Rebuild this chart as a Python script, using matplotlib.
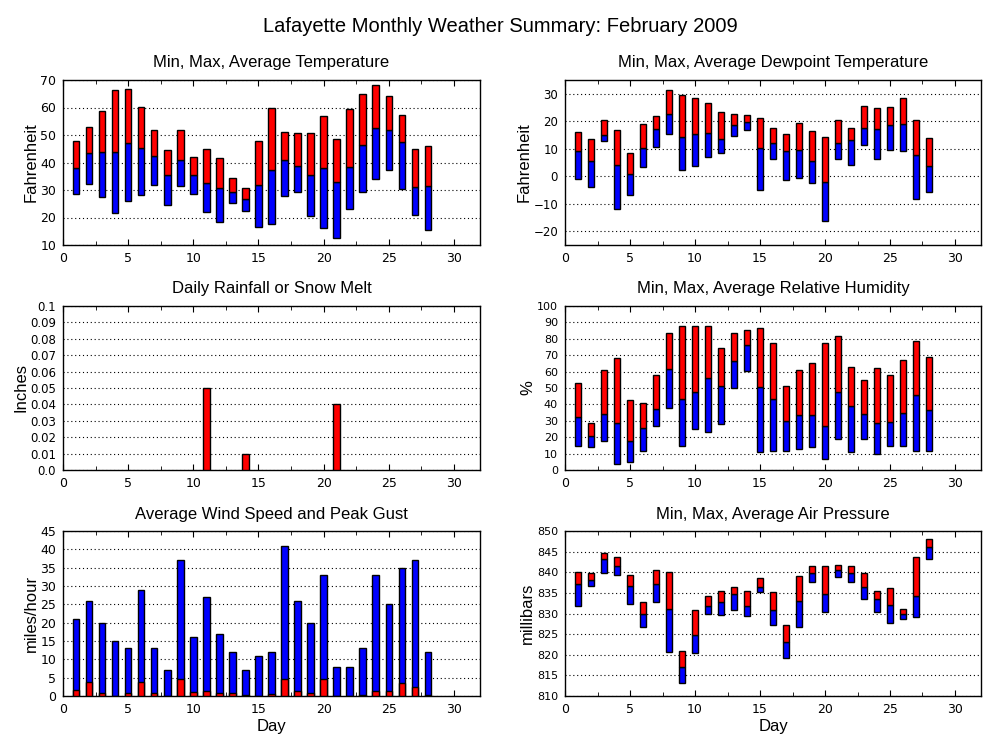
import matplotlib
matplotlib.use('Agg')
import matplotlib.pyplot as plt
from matplotlib.ticker import MultipleLocator

plt.rcParams['font.family'] = ['DejaVu Sans']
LABEL_FONT = ['Liberation Sans', 'DejaVu Sans']

days = list(range(1, 29))

temp_max = [47.7, 52.8, 58.6, 66.2, 66.6, 60.1, 51.7, 44.4, 51.7, 41.9, 44.8, 41.5, 34.2, 30.6,
            47.7, 59.7, 51.0, 50.6, 50.6, 56.8, 48.4, 59.3, 64.8, 68.1, 64.1, 57.2, 44.8, 45.9]
temp_avg = [37.9, 43.3, 43.7, 43.7, 47.0, 45.2, 42.2, 35.3, 40.8, 35.3, 32.4, 30.6, 29.2, 26.6,
            31.7, 37.2, 40.8, 38.6, 35.3, 37.9, 32.8, 38.2, 46.2, 52.4, 51.7, 47.3, 31.0, 31.3]
temp_min = [28.4, 32.1, 27.3, 21.5, 25.9, 28.1, 31.7, 24.4, 31.3, 28.4, 21.9, 18.2, 25.2, 22.2,
            16.4, 17.5, 27.7, 29.2, 20.4, 16.1, 12.4, 23.0, 29.2, 33.9, 37.2, 30.2, 20.8, 15.3]

dew_max = [16.1, 13.6, 20.5, 16.9, 8.5, 19.1, 22.0, 31.5, 29.6, 28.5, 26.7, 23.4, 22.7, 22.3,
           21.2, 17.6, 15.4, 19.4, 16.5, 14.3, 20.5, 17.6, 25.6, 24.9, 25.3, 28.5, 20.5, 13.9]
dew_avg = [9.2, 5.5, 15.0, 4.1, 0.8, 10.3, 17.2, 22.7, 14.3, 15.4, 15.8, 13.6, 18.7, 19.8,
           10.3, 12.1, 9.2, 9.6, 5.5, -2.1, 12.1, 13.2, 17.6, 17.2, 18.7, 19.1, 7.7, 3.7]
dew_min = [-1.0, -3.9, 12.8, -12.0, -6.9, 3.4, 10.7, 15.4, 2.3, 3.7, 7.0, 8.5, 14.7, 16.9,
           -5.0, 6.3, -1.4, -0.7, -2.5, -16.4, 6.3, 4.1, 11.4, 6.3, 9.6, 9.2, -8.3, -5.8]

rain = [0, 0, 0, 0, 0, 0, 0, 0, 0, 0, 0.05, 0, 0, 0.01,
        0, 0, 0, 0, 0, 0, 0.04, 0, 0, 0, 0, 0, 0, 0]

hum_max = [52.8, 28.5, 60.7, 68.0, 42.5, 40.7, 57.7, 83.8, 88.0, 88.0, 88.0, 74.1, 83.8, 85.6,
           86.8, 77.7, 51.0, 60.7, 65.0, 77.7, 82.0, 62.6, 54.7, 61.9, 57.7, 66.8, 78.9, 68.6]
hum_avg = [32.2, 20.6, 34.0, 28.5, 17.6, 25.5, 37.0, 61.3, 43.1, 47.4, 55.9, 51.0, 66.2, 76.5,
           50.4, 43.1, 29.8, 33.4, 33.4, 26.7, 47.4, 38.9, 34.0, 28.5, 29.1, 34.6, 45.5, 36.4]
hum_min = [14.6, 14.0, 17.6, 3.6, 4.9, 11.5, 26.7, 37.7, 14.6, 24.9, 23.1, 27.9, 49.8, 60.1,
           10.9, 11.5, 11.5, 12.8, 14.0, 6.7, 18.8, 10.9, 18.8, 9.7, 14.6, 14.6, 11.5, 11.5]

wind_gust = [21, 26, 20, 15, 13, 29, 13, 7, 37, 16, 27, 17, 12, 7,
             11, 12, 41, 26, 20, 33, 8, 8, 13, 33, 25, 35, 37, 12]
wind_avg = [1.6, 3.8, 0.8, 0.1, 0.8, 3.8, 0.9, 0.1, 4.6, 1.1, 1.4, 0.9, 0.9, 0.4,
            0.1, 0.5, 4.6, 1.4, 0.9, 4.6, 0.1, 0.1, 0.4, 1.4, 1.4, 3.5, 2.5, 0.4]

pres_max = [840.1, 839.7, 844.7, 843.8, 839.4, 832.9, 840.6, 840.1, 821.0, 830.9, 834.3, 835.5, 836.5, 835.5,
            838.7, 835.1, 827.3, 839.2, 841.4, 841.6, 841.8, 841.4, 839.7, 835.5, 836.3, 831.2, 843.8, 848.1]
pres_avg = [837.2, 838.2, 843.1, 841.6, 836.7, 830.0, 837.2, 831.2, 817.1, 824.9, 831.7, 832.9, 834.8, 831.7,
            836.5, 830.9, 823.2, 833.1, 839.7, 834.8, 840.6, 839.9, 836.5, 833.4, 832.1, 830.0, 834.3, 846.2]
pres_min = [831.9, 836.7, 839.7, 839.4, 832.4, 826.8, 832.9, 820.7, 813.2, 820.5, 830.0, 829.7, 830.9, 829.5,
            835.1, 827.3, 819.1, 826.8, 837.7, 830.4, 838.9, 837.7, 833.6, 830.4, 827.8, 828.7, 829.2, 843.3]

BW = 0.5


def style_axes(ax, title, ylabel, ylim, ystep, fmt=None, tick_size=9):
    ax.set_xlim(0, 32)
    ax.set_ylim(*ylim)
    ax.xaxis.set_major_locator(MultipleLocator(5))
    ax.xaxis.set_minor_locator(MultipleLocator(2.5))
    ax.yaxis.set_major_locator(MultipleLocator(ystep))
    if fmt:
        ax.yaxis.set_major_formatter(fmt)
    ax.tick_params(axis='x', which='major', direction='in', top=True, length=4, labelsize=9, pad=5)
    ax.tick_params(axis='x', which='minor', direction='in', top=True, length=3)
    ax.tick_params(axis='y', which='major', direction='in', right=True, length=0, labelsize=tick_size, pad=5)
    ax.grid(axis='y', color='black', linestyle=(0, (1, 2.5)), linewidth=0.8)
    ax.set_axisbelow(True)
    ax.set_title(title, fontsize=12, pad=9, family=LABEL_FONT)
    ax.set_ylabel(ylabel, fontsize=12, family=LABEL_FONT, labelpad=1)
    for s in ax.spines.values():
        s.set_linewidth(1.0)


def range_bars(ax, lo, mid, hi):
    b1 = [m - l for l, m in zip(lo, mid)]
    b2 = [h - m for m, h in zip(mid, hi)]
    ax.bar(days, b1, BW, bottom=lo, color='#0000ff', edgecolor='black', linewidth=1, zorder=3)
    ax.bar(days, b2, BW, bottom=mid, color='#ff0000', edgecolor='black', linewidth=1, zorder=3)


fig = plt.figure(figsize=(10, 7.5), dpi=100)
fig.suptitle('Lafayette Monthly Weather Summary: February 2009', fontsize=14.5, y=0.977,
             family=LABEL_FONT)

ax1 = fig.add_axes([0.063, 1 - 245 / 750, 0.417, 165 / 750])
range_bars(ax1, temp_min, temp_avg, temp_max)
style_axes(ax1, 'Min, Max, Average Temperature', 'Fahrenheit', (10, 70), 10)

ax2 = fig.add_axes([0.565, 1 - 245 / 750, 0.416, 165 / 750])
range_bars(ax2, dew_min, dew_avg, dew_max)
style_axes(ax2, 'Min, Max, Average Dewpoint Temperature', 'Fahrenheit', (-25, 35), 10, tick_size=8.5)

ax3 = fig.add_axes([0.063, 1 - 470 / 750, 0.417, 164 / 750])
rain_days = [d for d, r in zip(days, rain) if r > 0]
rain_vals = [r for r in rain if r > 0]
ax3.bar(rain_days, rain_vals, BW, color='#ff0000', edgecolor='black', linewidth=1, zorder=3)
style_axes(ax3, 'Daily Rainfall or Snow Melt', 'Inches', (0, 0.1), 0.01,
           fmt=lambda v, p: '0.0' if abs(v) < 1e-9 else ('0.1' if abs(v - 0.1) < 1e-9 else '%.2f' % v),
           tick_size=8.5)

ax4 = fig.add_axes([0.565, 1 - 470 / 750, 0.416, 164 / 750])
range_bars(ax4, hum_min, hum_avg, hum_max)
style_axes(ax4, 'Min, Max, Average Relative Humidity', '%', (0, 100), 10, tick_size=8)

ax5 = fig.add_axes([0.063, 1 - 696 / 750, 0.417, 165 / 750])
ax5.bar(days, wind_gust, BW, color='#0000ff', edgecolor='black', linewidth=1, zorder=3)
ax5.bar(days, wind_avg, BW, color='#ff0000', edgecolor='black', linewidth=1, zorder=4)
style_axes(ax5, 'Average Wind Speed and Peak Gust', 'miles/hour', (0, 45), 5)
ax5.set_xlabel('Day', fontsize=12, labelpad=2, family=LABEL_FONT)

ax6 = fig.add_axes([0.565, 1 - 696 / 750, 0.416, 165 / 750])
range_bars(ax6, pres_min, pres_avg, pres_max)
style_axes(ax6, 'Min, Max, Average Air Pressure', 'millibars', (810, 850), 5, tick_size=8)
ax6.set_xlabel('Day', fontsize=12, labelpad=2, family=LABEL_FONT)

fig.savefig('out.png', dpi=100)
